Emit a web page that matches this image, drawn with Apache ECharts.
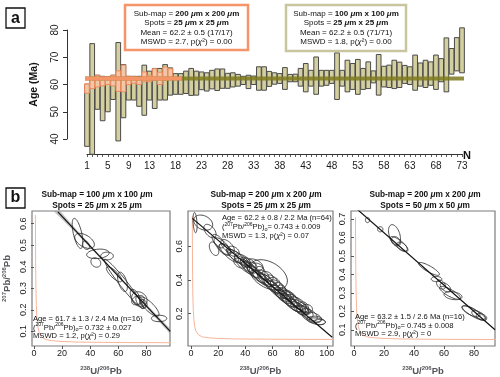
<!DOCTYPE html>
<html>
<head>
<meta charset="utf-8">
<script src="https://cdn.jsdelivr.net/npm/echarts@6/dist/echarts.min.js"></script>
<style>
  html, body { margin: 0; padding: 0; background: #fff; }
  #chart { width: 500px; height: 377px; }
</style>
</head>
<body>
<div id="chart"></div>
<script>
// ---------- panel a : single-spot ages (Ma), 2s bars ----------
const nLabels = [1, 5, 9, 13, 18, 23, 28, 33, 38, 43, 48, 53, 58, 63, 68, 73];
const ageTicks = [40, 50, 60, 70, 80];
const oliveLow = [37.3, 34.4, 50.9, 46.7, 50.0, 54.5, 39.3, 47.8, 54.3, 54.3,
  52.0, 48.7, 54.3, 51.2, 54.3, 54.3, 56.1, 56.4, 56.4, 56.7,
  56.0, 56.1, 58.1, 57.6, 58.4, 57.8, 58.6, 58.6, 59.1, 59.4,
  60.0, 58.5, 60.0, 57.9, 57.9, 59.3, 60.1, 60.4, 58.2, 61.0,
  61.0, 59.4, 57.3, 59.4, 56.4, 59.4, 59.7, 60.4, 54.5, 59.4,
  57.3, 58.2, 56.4, 58.2, 58.5, 60.6, 56.1, 59.1, 58.9, 58.5,
  58.9, 60.4, 60.0, 57.9, 59.4, 58.9, 59.7, 58.2, 61.0, 57.3,
  63.8, 65.0, 64.3];
const oliveHigh = [60.0, 75.0, 63.4, 63.0, 62.8, 63.4, 75.4, 67.3, 63.0, 63.0,
  63.0, 67.1, 64.9, 65.9, 65.9, 67.3, 66.1, 64.0, 64.0, 64.9,
  65.9, 64.9, 64.6, 64.3, 65.2, 65.7, 65.7, 64.1, 64.3, 63.7,
  63.0, 63.4, 63.1, 66.5, 66.5, 64.8, 64.3, 64.0, 66.2, 63.7,
  63.8, 65.9, 67.7, 65.2, 70.1, 65.2, 65.2, 65.2, 71.6, 65.2,
  68.9, 67.7, 69.2, 65.9, 68.3, 65.0, 71.0, 66.7, 67.1, 68.9,
  68.2, 67.0, 66.5, 70.8, 67.9, 68.9, 68.3, 70.8, 69.5, 77.1,
  73.2, 77.2, 80.8];
const orangeLow = [56.8, 58.5, 59.1, 59.5, 60.0, 59.5, 57.5, 57.3, 60.0, 60.5, 60.0, 61.0, 61.0, 61.5, 60.0, 61.5, 62.0];
const orangeHigh = [60.3, 62.5, 63.4, 62.8, 62.8, 63.4, 65.0, 67.1, 63.0, 62.8, 62.6, 64.6, 63.4, 65.8, 64.5, 66.4, 65.8];
const meanOlive = 62.2;
const meanOrange = 62.2;
const oliveSpan = [-1.3, 73.8];
const orangeSpan = [-0.3, 19.2];

// ---------- panel b : Tera-Wasserburg plots ----------
// ellipses: [238U/206Pb, 207Pb/206Pb, sx, sy, rho]
const ellipses1 = [
  [31, 0.555, 3.8, 0.07, -0.6], [36, 0.52, 7, 0.035, -0.5], [37, 0.5, 2.5, 0.02, -0.3],
  [45.5, 0.46, 8, 0.022, 0.2], [44, 0.42, 3.5, 0.022, -0.2], [52, 0.45, 4.5, 0.018, 0],
  [57, 0.365, 5.5, 0.035, -0.8], [64, 0.32, 14, 0.115, -0.97], [63, 0.33, 3.5, 0.045, -0.5],
  [72, 0.26, 3.5, 0.035, -0.5], [74, 0.245, 4.5, 0.022, 0.3], [76, 0.235, 3.5, 0.028, -0.6],
  [75, 0.25, 5.5, 0.034, -0.2], [82, 0.215, 7, 0.045, -0.8], [89, 0.16, 5.5, 0.015, 0],
  [78, 0.23, 2.5, 0.018, -0.3]
];
const ellipses2 = [
  [3, 0.74, 1.5, 0.06, -0.3], [9, 0.74, 7, 0.045, -0.3], [14, 0.69, 4.5, 0.04, -0.5],
  [17, 0.585, 3.5, 0.04, -0.4], [20, 0.63, 4.5, 0.04, -0.6], [23, 0.6, 6, 0.05, -0.7],
  [25, 0.58, 4.5, 0.035, -0.5], [27, 0.6, 5, 0.04, -0.6], [28, 0.56, 7, 0.055, -0.8],
  [31, 0.57, 4.5, 0.03, -0.3], [33, 0.54, 6, 0.04, -0.7], [35, 0.53, 9, 0.055, -0.85],
  [36, 0.5, 4.5, 0.03, -0.4], [38, 0.52, 6, 0.035, -0.6], [39, 0.49, 7, 0.055, -0.8],
  [40, 0.505, 3.5, 0.03, -0.3], [42, 0.48, 6, 0.04, -0.7], [43, 0.5, 4.5, 0.03, -0.5],
  [44, 0.46, 7, 0.05, -0.8], [45, 0.475, 3.5, 0.03, 0], [46, 0.45, 4.5, 0.035, -0.6],
  [47, 0.49, 6, 0.035, -0.4], [48, 0.44, 9, 0.07, -0.9], [49, 0.47, 4.5, 0.03, -0.3],
  [50, 0.42, 6, 0.04, -0.7], [51, 0.45, 3.5, 0.03, -0.2], [52, 0.41, 7, 0.05, -0.8],
  [53, 0.43, 4.5, 0.03, -0.5], [55, 0.40, 6, 0.04, -0.7], [56, 0.42, 4.5, 0.03, -0.3],
  [57, 0.43, 14, 0.09, -0.4], [58, 0.38, 7, 0.055, -0.8], [59, 0.40, 4.5, 0.03, -0.4],
  [60, 0.36, 6, 0.04, -0.7], [61, 0.385, 4.5, 0.03, -0.2], [62, 0.35, 9, 0.06, -0.9],
  [63, 0.37, 4.5, 0.03, -0.5], [64, 0.33, 6, 0.04, -0.7], [65, 0.35, 4.5, 0.035, -0.3],
  [66, 0.32, 7, 0.05, -0.8], [67, 0.34, 3.5, 0.03, -0.4], [68, 0.30, 6, 0.04, -0.7],
  [69, 0.32, 4.5, 0.035, -0.5], [70, 0.29, 9, 0.055, -0.85], [71, 0.31, 4.5, 0.03, -0.3],
  [72, 0.28, 6, 0.04, -0.6], [73, 0.30, 4.5, 0.03, -0.4], [74, 0.26, 7, 0.05, -0.8],
  [75, 0.28, 4.5, 0.035, -0.5], [76, 0.25, 6, 0.04, -0.7], [77, 0.27, 10, 0.07, -0.9],
  [78, 0.24, 4.5, 0.03, -0.4], [79, 0.26, 6, 0.04, -0.6], [80, 0.23, 4.5, 0.035, -0.5],
  [81, 0.245, 7, 0.04, -0.8], [82, 0.22, 4.5, 0.03, -0.3], [83, 0.24, 3.5, 0.03, -0.2],
  [84, 0.21, 6, 0.035, -0.6], [85, 0.225, 4.5, 0.03, 0], [87, 0.195, 6, 0.035, -0.5],
  [89, 0.18, 7, 0.03, -0.4], [91, 0.165, 5.5, 0.02, 0], [93, 0.155, 6, 0.02, -0.3],
  [95, 0.15, 4, 0.016, 0]
];
const ellipses3 = [
  [9, 0.695, 1.4, 0.014, 0], [17.5, 0.645, 1.8, 0.014, 0], [27, 0.615, 4, 0.055, -0.4],
  [30, 0.565, 6, 0.04, -0.8], [28, 0.58, 3, 0.025, -0.3], [32, 0.55, 3.5, 0.025, -0.5],
  [50, 0.43, 7, 0.035, -0.85], [55, 0.375, 3.5, 0.014, 0], [58, 0.345, 3, 0.025, -0.4],
  [61, 0.33, 3.5, 0.025, -0.5], [64, 0.30, 7, 0.035, -0.8], [66, 0.285, 6, 0.022, -0.3],
  [78, 0.20, 6, 0.03, -0.7], [80, 0.19, 8, 0.04, -0.85], [83, 0.18, 4.5, 0.024, -0.6],
  [85, 0.17, 3.5, 0.018, -0.4]
];
// discordia end points
const fit1 = [[17, 0.655], [97, 0.10]];
const fit2 = [[1, 0.765], [104, 0.06]];
const fit3 = [[2.7, 0.749], [94, 0.10]];
// confidence envelope of fit in plot 1
const bandX = [14, 30, 50, 70, 97];
const bandLo = [0.658, 0.556, 0.421, 0.281, 0.088];
const bandHi = [0.694, 0.574, 0.431, 0.293, 0.112];
// concordia
const conX = [1.03, 1.2, 1.4, 1.7, 2.1, 2.8, 3.8, 5.8, 8.5, 12.4, 20, 31.6, 64, 106];
const conY = [0.62, 0.42, 0.30, 0.22, 0.165, 0.12, 0.094, 0.0725, 0.062, 0.057, 0.053, 0.050, 0.048, 0.047];
const conTop = [0.64, 0.78, 0.71];

const bXMin = [-1.4, -2.2, -2], bXMax = [96.8, 104.6, 94];
const bYMin = [0.032, 0.008, 0.012], bYMax = [0.659, 0.809, 0.744];
const bXTicks = [[0, 20, 40, 60, 80], [0, 20, 40, 60, 80, 100], [0, 20, 40, 60, 80]];
const bYTicks = [[0.1, 0.2, 0.3, 0.4, 0.5, 0.6], [0.2, 0.4, 0.6], [0.1, 0.2, 0.3, 0.4, 0.5, 0.6, 0.7]];

const fam = '"Liberation Sans", Arial, Helvetica, sans-serif';
const F = (size, weight, style, extra) => Object.assign({
  fontSize: size, fontFamily: fam, fontWeight: weight || 'normal', fontStyle: style || 'normal', fill: '#111'
}, extra || {});

const chart = echarts.init(document.getElementById('chart'));

// rectangle bar from low to high
function barRender(fill, stroke, frac) {
  return function (params, api) {
    const n = api.value(0);
    const top = api.coord([n, api.value(2)]);
    const bot = api.coord([n, api.value(1)]);
    const w = api.size([1, 0])[0] * frac;
    return {
      type: 'rect',
      shape: { x: top[0] - w / 2, y: top[1], width: w, height: bot[1] - top[1] },
      style: { fill: fill, stroke: stroke, lineWidth: 1 }
    };
  };
}

// error ellipse from sx, sy and correlation
function ellipseRender(params, api) {
  const cx = api.value(0), cy = api.value(1), sx = api.value(2), sy = api.value(3), r = api.value(4);
  const q = Math.sqrt(1 - r * r);
  const pts = [];
  for (let k = 0; k < 48; k++) {
    const t = 2 * Math.PI * k / 48;
    pts.push(api.coord([cx + sx * Math.cos(t), cy + sy * (r * Math.cos(t) + q * Math.sin(t))]));
  }
  return { type: 'polygon', shape: { points: pts }, style: { fill: 'none', stroke: '#2e2e2e', lineWidth: 0.85 } };
}

function bandRender(params, api) {
  const pts = [];
  bandX.forEach((x, i) => pts.push(api.coord([x, bandHi[i]])));
  for (let i = bandX.length - 1; i >= 0; i--) pts.push(api.coord([bandX[i], bandLo[i]]));
  return { type: 'polygon', shape: { points: pts }, style: { fill: 'rgba(150,150,150,0.55)', stroke: 'none' } };
}

const supRich = {
  s: F(6, 'bold', 'normal', { verticalAlign: 'top', lineHeight: 6 }),
  b: F(9.5, 'bold', 'normal', { lineHeight: 12 })
};
const txtRich = {
  n: F(7.6, 'normal', 'normal', { lineHeight: 10 }),
  s: F(5, 'normal', 'normal', { verticalAlign: 'top', lineHeight: 5 }),
  o: F(5.5, 'normal', 'normal', { verticalAlign: 'bottom', lineHeight: 6 }),
  i: F(7.6, 'normal', 'italic', { lineHeight: 10 })
};
const boxRich = {
  n: F(8, 'normal', 'normal', { lineHeight: 10 }),
  b: F(8, 'bold', 'normal', { lineHeight: 10 }),
  bi: F(8, 'bold', 'italic', { lineHeight: 10 }),
  i: F(8, 'normal', 'italic', { lineHeight: 10 })
};
const titleRich = {
  b: F(8.3, 'bold', 'normal', { lineHeight: 10 }),
  bi: F(8.3, 'bold', 'italic', { lineHeight: 10 })
};

function text(x, y, str, rich, align) {
  return {
    type: 'text', x: x, y: y, z: 100,
    style: {
      text: str, rich: rich, fontSize: 8, fontFamily: fam, fill: '#111',
      align: align || 'center', verticalAlign: 'middle',
      textAlign: align || 'center', textVerticalAlign: 'middle'
    }
  };
}

const xAxes = [{
  gridIndex: 0, type: 'value', min: 1, max: 73, interval: 1, offset: 15,
  axisLine: { lineStyle: { color: '#333', width: 1 } },
  axisTick: { length: 3, lineStyle: { color: '#333', width: 0.8 } },
  axisLabel: {
    fontSize: 10, fontFamily: fam, color: '#1a1a1a', margin: 7,
    formatter: v => nLabels.includes(v) ? String(v) : ''
  },
  splitLine: { show: false }
}];
const yAxes = [{
  gridIndex: 0, type: 'value', min: 40, max: 80, interval: 10, offset: 20,
  axisLine: { show: true, lineStyle: { color: '#333', width: 1 } },
  axisTick: { length: 4, lineStyle: { color: '#333' } },
  axisLabel: { rotate: 90, fontSize: 10, fontFamily: fam, color: '#1a1a1a', margin: 7,
    formatter: v => ageTicks.includes(v) ? String(v) : '' },
  splitLine: { show: false },
  name: 'Age (Ma)', nameLocation: 'middle', nameGap: 27,
  nameTextStyle: { fontSize: 10.5, fontWeight: 'bold', fontFamily: fam, color: '#111' }
}];
for (let p = 0; p < 3; p++) {
  xAxes.push({
    gridIndex: p + 1, type: 'value', min: bXMin[p], max: bXMax[p],
    axisLine: { show: false },
    axisTick: { customValues: bXTicks[p], length: 3, lineStyle: { color: '#555' } },
    axisLabel: { customValues: bXTicks[p], fontSize: 9, fontFamily: fam, color: '#1a1a1a', margin: 3 },
    splitLine: { show: false },
    name: '{s|238}{b|U/}{s|206}{b|Pb}', nameLocation: 'middle', nameGap: 19,
    nameTextStyle: { rich: supRich }
  });
  yAxes.push({
    gridIndex: p + 1, type: 'value', min: bYMin[p], max: bYMax[p],
    axisLine: { show: false },
    axisTick: { customValues: bYTicks[p], length: 3, lineStyle: { color: '#555' } },
    axisLabel: { customValues: bYTicks[p], rotate: 90, fontSize: 9, fontFamily: fam, color: '#1a1a1a', margin: 4,
      formatter: v => v.toFixed(1) },
    splitLine: { show: false },
    name: p === 0 ? '{s|207}{b|Pb/}{s|206}{b|Pb}' : '', nameLocation: 'middle', nameGap: 19,
    nameTextStyle: { rich: supRich }
  });
}

const series = [
  {
    type: 'custom', xAxisIndex: 0, yAxisIndex: 0, clip: false, z: 2,
    renderItem: barRender('#d3cf9e', '#4a4a4a', 0.9),
    data: oliveLow.map((lo, i) => [i + 1, lo, oliveHigh[i]])
  },
  {
    type: 'custom', xAxisIndex: 0, yAxisIndex: 0, clip: false, z: 3,
    renderItem: barRender('rgba(250,196,170,0.8)', '#ee8a5c', 0.9),
    data: orangeLow.map((lo, i) => [i + 1, lo, orangeHigh[i]])
  },
  {
    type: 'line', xAxisIndex: 0, yAxisIndex: 0, clip: false, z: 4, symbol: 'none', silent: true,
    lineStyle: { color: '#7e7a20', width: 4, opacity: 0.85 },
    data: oliveSpan.map(x => [x, meanOlive])
  },
  {
    type: 'line', xAxisIndex: 0, yAxisIndex: 0, clip: false, z: 5, symbol: 'none', silent: true,
    lineStyle: { color: '#f59467', width: 4 },
    data: orangeSpan.map(x => [x, meanOrange])
  },
  {
    type: 'custom', xAxisIndex: 1, yAxisIndex: 1, clip: true, z: 2,
    renderItem: bandRender, data: [[bandX[0], bandLo[0]]]
  }
];
const ellipseSets = [ellipses1, ellipses2, ellipses3];
const fits = [fit1, fit2, fit3];
for (let p = 0; p < 3; p++) {
  series.push({
    type: 'line', xAxisIndex: p + 1, yAxisIndex: p + 1, symbol: 'none', silent: true, z: 3,
    lineStyle: { color: '#f7b49a', width: 1 },
    data: [[conX[0] - 0.05, conTop[p]]].concat(conX.map((x, i) => [x, conY[i]]))
  });
  series.push({
    type: 'custom', xAxisIndex: p + 1, yAxisIndex: p + 1, clip: true, z: 4,
    renderItem: ellipseRender, data: ellipseSets[p]
  });
  series.push({
    type: 'line', xAxisIndex: p + 1, yAxisIndex: p + 1, symbol: 'none', silent: true, z: 5,
    lineStyle: { color: '#111', width: 1.2 },
    data: fits[p]
  });
}

const graphics = [
  // panel labels
  { type: 'rect', shape: { x: 6, y: 8, width: 19, height: 20 }, style: { fill: '#fff', stroke: '#111', lineWidth: 1.3 } },
  text(15.5, 18.5, '{x|a}', { x: F(16, 'bold') }, 'center'),
  { type: 'rect', shape: { x: 6, y: 188, width: 19, height: 20 }, style: { fill: '#fff', stroke: '#111', lineWidth: 1.3 } },
  text(15.5, 197.5, '{x|b}', { x: F(16, 'bold') }, 'center'),
  // legend boxes of panel a
  { type: 'rect', z: 50, shape: { x: 125, y: 5, width: 123, height: 45 }, style: { fill: '#fff', stroke: '#f5946a', lineWidth: 2.5 } },
  { type: 'rect', z: 50, shape: { x: 286, y: 5, width: 120, height: 46 }, style: { fill: '#fff', stroke: '#c9c59e', lineWidth: 2.5 } },
  text(467, 156, '{x|N}', { x: F(11, 'bold') }, 'center')
];

const legendRows = [
  ['{n|Sub-map = }{b|200 }{bi|μ}{b|m x 200 }{bi|μ}{b|m}', '{n|Spots = }{b|25 }{bi|μ}{b|m x 25 }{bi|μ}{b|m}',
   '{n|Mean = 62.2 ± 0.5 (17/17)}', '{n|MSWD = 2.7, p(}{i|χ}{n|²) = 0.00}'],
  ['{n|Sub-map = }{b|100 }{bi|μ}{b|m x 100 }{bi|μ}{b|m}', '{n|Spots = }{b|25 }{bi|μ}{b|m x 25 }{bi|μ}{b|m}',
   '{n|Mean = 62.2 ± 0.5 (71/71)}', '{n|MSWD = 1.8, p(}{i|χ}{n|²) = 0.00}']
];
const legendX = [186.5, 346];
const rowY = [13.5, 23, 32.5, 42];
legendRows.forEach((rows, k) => rows.forEach((r, j) => graphics.push(text(legendX[k], rowY[j], r, boxRich))));

const titles = [
  ['{b|Sub-map = 100 }{bi|μ}{b|m x 100 }{bi|μ}{b|m}', '{b|Spots = 25 }{bi|μ}{b|m x 25 }{bi|μ}{b|m}'],
  ['{b|Sub-map = 200 }{bi|μ}{b|m x 200 }{bi|μ}{b|m}', '{b|Spots = 25 }{bi|μ}{b|m x 25 }{bi|μ}{b|m}'],
  ['{b|Sub-map = 200 }{bi|μ}{b|m x 200 }{bi|μ}{b|m}', '{b|Spots = 50 }{bi|μ}{b|m x 50 }{bi|μ}{b|m}']
];
const titleX = [97, 266, 425];
titles.forEach((t, k) => { graphics.push(text(titleX[k], 195, t[0], titleRich)); graphics.push(text(titleX[k], 206, t[1], titleRich)); });

const stats = [
  ['{n|Age = 61.7 ± 1.3 / 2.4 Ma (n=16)}', '{n|(}{s|207}{n|Pb/}{s|206}{n|Pb)}{o|o}{n|= 0.732 ± 0.027}', '{n|MSWD = 1.2, p(}{i|χ}{n|²) = 0.29}'],
  ['{n|Age = 62.2 ± 0.8 / 2.2 Ma (n=64)}', '{n|(}{s|207}{n|Pb/}{s|206}{n|Pb)}{o|o}{n|= 0.743 ± 0.009}', '{n|MSWD = 1.3, p(}{i|χ}{n|²) = 0.07}'],
  ['{n|Age = 63.2 ± 1.5 / 2.6 Ma (n=16)}', '{n|(}{s|207}{n|Pb/}{s|206}{n|Pb)}{o|o}{n|= 0.745 ± 0.008}', '{n|MSWD = 2.9, p(}{i|χ}{n|²) = 0}']
];
const statX = [33, 222, 355];
const statY = [[319, 327.5, 336], [218, 227, 236], [317, 325.5, 334]];
stats.forEach((s, k) => s.forEach((r, j) => graphics.push(text(statX[k], statY[k][j], r, txtRich, 'left'))));

const gridBox = { show: true, borderColor: '#7c7c7c', borderWidth: 1.2, backgroundColor: 'transparent' };
chart.setOption({
  animation: false,
  backgroundColor: '#fff',
  textStyle: { fontFamily: fam },
  grid: [
    { left: 87, right: 38, top: 30, height: 109 },
    Object.assign({ left: 28, top: 211, width: 142, height: 139 }, gridBox),
    Object.assign({ left: 188, top: 211, width: 145, height: 139 }, gridBox),
    Object.assign({ left: 351, top: 211, width: 144, height: 139 }, gridBox)
  ],
  xAxis: xAxes,
  yAxis: yAxes,
  series: series,
  graphic: graphics
});
</script>
</body>
</html>
